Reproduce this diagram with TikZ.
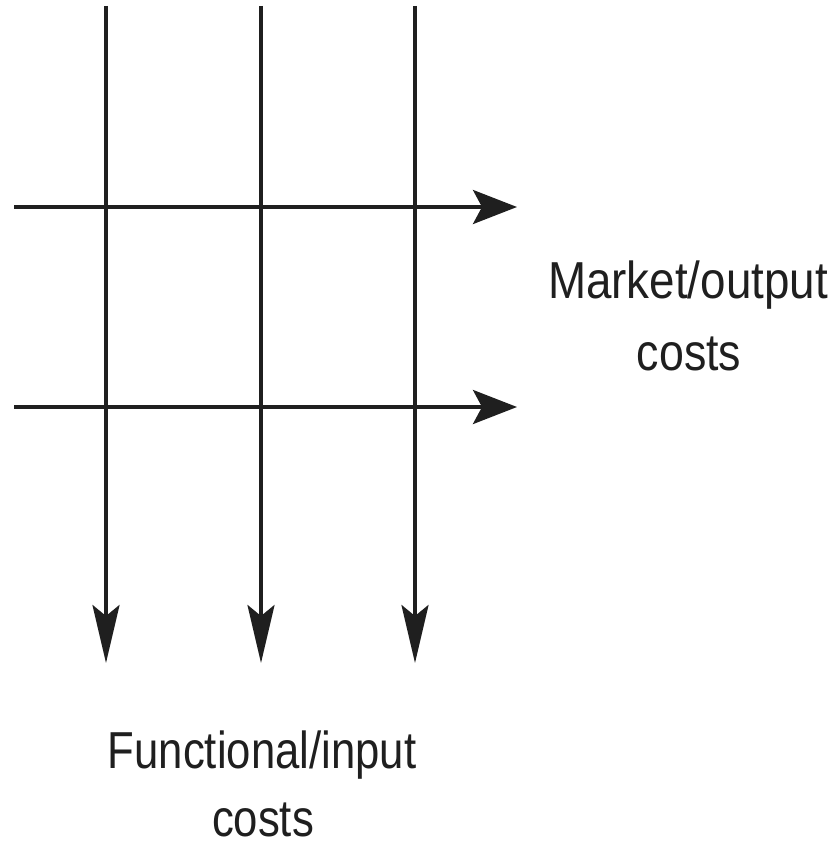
\documentclass[tikz,border=0pt]{standalone}
\usepackage{fontspec}
\setmainfont{Liberation Sans}
\usetikzlibrary{arrows.meta}
\begin{document}
\begin{tikzpicture}[x=1pt,y=-1pt,
  rule/.style={line width=3.6pt,color=black!88},
  downarrow/.style={rule,-{Stealth[length=58pt,width=27pt,inset=11pt]}},
  rightarrow/.style={rule,-{Stealth[length=44pt,width=34pt,inset=9pt]}},
  caption/.style={inner sep=0pt,anchor=base,font=\fontsize{52}{60}\selectfont,text=black!88}]
  \useasboundingbox (0,0) rectangle (833,843);
  % cost flows
  \coordinate (c1top) at (106,6);   \coordinate (c1bot) at (106,663);
  \coordinate (c2top) at (261,6);   \coordinate (c2bot) at (261,663);
  \coordinate (c3top) at (415,6);   \coordinate (c3bot) at (415,663);
  \coordinate (r1left) at (14,207); \coordinate (r1right) at (517,207);
  \coordinate (r2left) at (14,407); \coordinate (r2right) at (517,407);
  \draw[rightarrow] (r1left) -- (r1right);
  \draw[rightarrow] (r2left) -- (r2right);
  \draw[downarrow] (c1top) -- (c1bot);
  \draw[downarrow] (c2top) -- (c2bot);
  \draw[downarrow] (c3top) -- (c3bot);
  % labels
  \node[caption] (mkt1) at (688,298) {\scalebox{0.88}[1]{Market/output}};
  \node[caption] (mkt2) at (689,370) {\scalebox{0.86}[1]{costs}};
  \node[caption] (fn1) at (262,768) {\scalebox{0.84}[1]{Functional/input}};
  \node[caption] (fn2) at (263,836) {\scalebox{0.84}[1]{costs}};
\end{tikzpicture}
\end{document}
